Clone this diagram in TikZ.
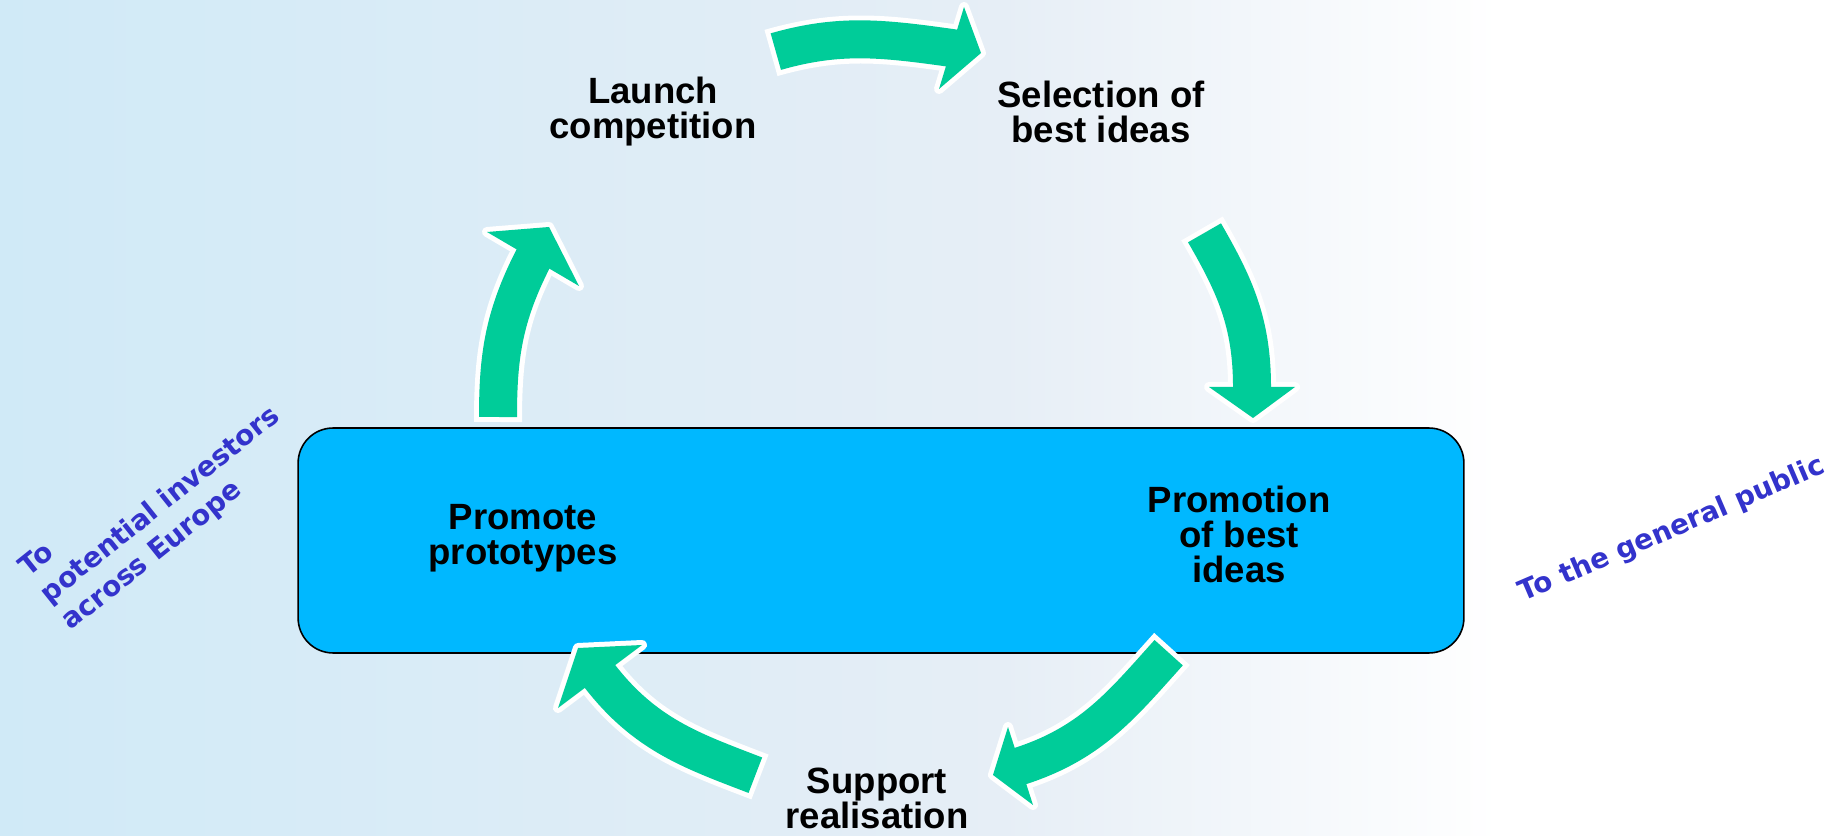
\documentclass[tikz,border=0pt]{standalone}
\usepackage{fontspec}
\setmainfont{Liberation Sans}
\newfontfamily\notefont{DejaVu Sans}
\usepackage{tikz}
\usetikzlibrary{calc}

\definecolor{boxblue}{RGB}{0,184,255}
\definecolor{arrowgreen}{RGB}{0,204,153}
\definecolor{noteblue}{RGB}{51,51,204}
\definecolor{skyblue}{RGB}{208,234,247}
\definecolor{mistblue}{RGB}{230,238,246}

\begin{document}
\begin{tikzpicture}[x=0.02cm, y=0.02cm,
	stage/.style={font=\bfseries\fontsize{20.8}{19.9}\selectfont, align=center, inner sep=0pt},
	note/.style={font=\notefont\bfseries\fontsize{15.8}{19.5}\selectfont, text=noteblue, inner sep=0pt}]
	% background
	\shade[left color=skyblue, right color=mistblue] (0,0) rectangle (1000,835);
	\shade[left color=mistblue, right color=white] (1000,0) rectangle (1500,835);
	\fill[white] (1500,0) rectangle (1845,835);
	\useasboundingbox (0,0) rectangle (1845,835);

	\node (box) [draw=black, line width=0.9pt, fill=boxblue, rounded corners=0.7cm,
		minimum width=23.32cm, minimum height=4.5cm] at (881,294.5) {};

	% arrow end points
	\coordinate (a1s) at (771,782);    \coordinate (a1b) at (951.5,787);
	\coordinate (a1t) at (981,782);    \coordinate (a1l) at (964,828);   \coordinate (a1r) at (939,746);
	\coordinate (a2s) at (1202,606.5); \coordinate (a2b) at (1252,448);
	\coordinate (a2t) at (1253,417);   \coordinate (a2l) at (1295,448);  \coordinate (a2r) at (1209,448);
	\coordinate (a3s) at (1172,186);   \coordinate (a3b) at (1020.5,69);
	\coordinate (a3t) at (993,60);     \coordinate (a3l) at (1033,30);   \coordinate (a3r) at (1008,108);
	\coordinate (a4s) at (760,58);     \coordinate (a4b) at (600,158.5);
	\coordinate (a4t) at (578,187);    \coordinate (a4l) at (558,127);   \coordinate (a4r) at (642,190);
	\coordinate (a5s) at (498,413);    \coordinate (a5b) at (533,576);
	\coordinate (a5t) at (549,608);    \coordinate (a5l) at (487,603);   \coordinate (a5r) at (579,549);

	% white rims
	\begin{scope}[draw=white, line width=0.96cm]
		\draw (a1s) to[out=16,in=172] (a1b);
		\draw (a2s) to[out=-60,in=90] (a2b);
		\draw (a3s) to[out=228,in=18] (a3b);
		\draw (a4s) to[out=159,in=-52] (a4b);
		\draw (a5s) to[out=90,in=243] (a5b);
	\end{scope}
	\begin{scope}[draw=white, fill=white, line width=0.2cm, line join=round]
		\filldraw (a1l) -- (a1t) -- (a1r) -- cycle;
		\filldraw (a2l) -- (a2t) -- (a2r) -- cycle;
		\filldraw (a3l) -- (a3t) -- (a3r) -- cycle;
		\filldraw (a4l) -- (a4t) -- (a4r) -- cycle;
		\filldraw (a5l) -- (a5t) -- (a5r) -- cycle;
	\end{scope}
	% green arrows
	\begin{scope}[draw=arrowgreen, line width=0.76cm, shorten <=0.1cm]
		\draw (a1s) to[out=16,in=172] (a1b) -- ($(a1b)!0.3!(a1t)$);
		\draw (a2s) to[out=-60,in=90] (a2b) -- ($(a2b)!0.3!(a2t)$);
		\draw (a3s) to[out=228,in=18] (a3b) -- ($(a3b)!0.3!(a3t)$);
		\draw (a4s) to[out=159,in=-52] (a4b) -- ($(a4b)!0.3!(a4t)$);
		\draw (a5s) to[out=90,in=243] (a5b) -- ($(a5b)!0.3!(a5t)$);
	\end{scope}
	\begin{scope}[fill=arrowgreen]
		\fill (a1l) -- (a1t) -- (a1r) -- cycle;
		\fill (a2l) -- (a2t) -- (a2r) -- cycle;
		\fill (a3l) -- (a3t) -- (a3r) -- cycle;
		\fill (a4l) -- (a4t) -- (a4r) -- cycle;
		\fill (a5l) -- (a5t) -- (a5r) -- cycle;
	\end{scope}

	% stages
	\node (launch) [stage] at (653,723) {Launch\\competition};
	\node (select) [stage] at (1101,723) {Selection of\\best ideas};
	\node (promo) [stage] at (1239,301) {Promotion\\of best\\ideas};
	\node (support) [stage] at (877,37) {Support\\realisation};
	\node (proto) [stage] at (523,297) {Promote\\prototypes};

	% audiences
	\node (investors) [note, align=left, rotate=38.6] at (161,329) {To\\potential investors\\across Europe};
	\node (public) [note, rotate=23.2] at (1672,305) {To the general public};
\end{tikzpicture}
\end{document}
